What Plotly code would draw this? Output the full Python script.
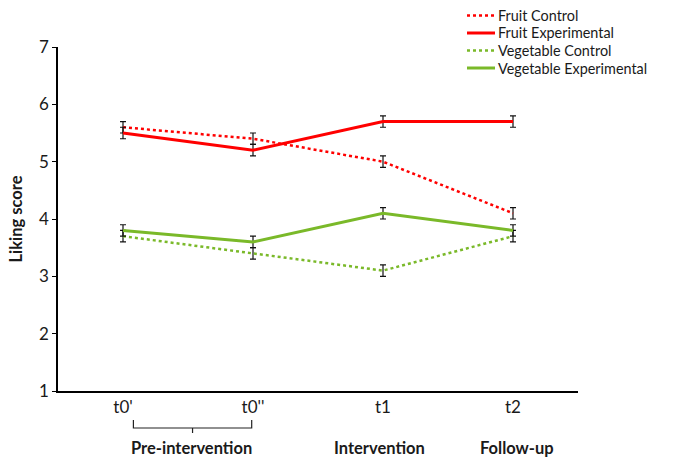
import plotly.graph_objects as go

categories = [0, 1, 2, 3]
tick_labels = ["t0'", "t0''", "t1", "t2"]
fruit_control = [5.6, 5.4, 5.0, 4.1]
fruit_experimental = [5.5, 5.2, 5.7, 5.7]
veg_control = [3.7, 3.4, 3.1, 3.7]
veg_experimental = [3.8, 3.6, 4.1, 3.8]
err = [0.1, 0.1, 0.1, 0.1]
series_names = ["Fruit Control", "Fruit Experimental", "Vegetable Control", "Vegetable Experimental"]
phase_labels = ["Pre-intervention", "Intervention", "Follow-up"]

RED = "#FF0000"
GREEN = "#7AB929"
FONT = "Lato"

W, H = 681, 458
ML, MR, MT, MB = 58, 103, 47, 67
PW, PH = W - ML - MR, H - MT - MB

def px_x(px):
    return (px - ML) / PW

def px_y(py):
    return (H - MB - py) / PH

fig = go.Figure()

styles = [(RED, "dot"), (RED, "solid"), (GREEN, "dot"), (GREEN, "solid")]
data = [fruit_control, fruit_experimental, veg_control, veg_experimental]

for name, y, (color, dash) in zip(series_names, data, styles):
    fig.add_trace(go.Scatter(
        x=categories, y=y, name=name, mode="lines", showlegend=False,
        line=dict(color=color, width=3 if dash == "solid" else 2.5, dash=dash),
        error_y=dict(type="data", array=err, visible=True, color="#111111",
                     thickness=1.2, width=3),
    ))

fig.update_layout(
    width=W, height=H,
    margin=dict(l=ML, r=MR, t=MT, b=MB, autoexpand=False),
    paper_bgcolor="white", plot_bgcolor="white",
    font=dict(family=FONT, size=17, color="#1a1a1a"),
    showlegend=False,
    xaxis=dict(range=[-0.5, 3.5], tickmode="array", tickvals=categories,
               ticktext=tick_labels, showgrid=False, zeroline=False,
               showline=True, linecolor="black", linewidth=1.5, ticks="",
               tickfont=dict(size=17)),
    yaxis=dict(range=[1, 7], dtick=1, showgrid=False, zeroline=False,
               showline=True, linecolor="black", linewidth=1.5,
               ticks="outside", ticklen=4, tickcolor="black",
               tickfont=dict(size=17),
               title=dict(text="<b>Liking score</b>", font=dict(size=16.5), standoff=12)),
)

# manual legend
for i, (name, (color, dash)) in enumerate(zip(series_names, styles)):
    yy = px_y(15.5 + i * 17.5)
    fig.add_shape(type="line", xref="paper", yref="paper",
                  x0=px_x(467), x1=px_x(495), y0=yy, y1=yy,
                  line=dict(color=color, width=3 if dash == "solid" else 2.5, dash=dash))
    fig.add_annotation(x=px_x(497), y=yy, xref="paper", yref="paper", text=name,
                       showarrow=False, xanchor="left", yanchor="middle",
                       font=dict(size=14.4), borderpad=0)

# bracket under pre-intervention
y_top, y_bot, y_tick = px_y(420), px_y(428), px_y(433)
fig.add_shape(type="path", xref="x", yref="paper",
              path=f"M 0.08,{y_top} L 0.08,{y_bot} L 0.99,{y_bot} L 0.99,{y_top}",
              line=dict(color="#222222", width=1.2))
fig.add_shape(type="line", xref="x", yref="paper", x0=0.535, x1=0.535,
              y0=y_bot, y1=y_tick, line=dict(color="#222222", width=1.2))

for xc, txt in zip([0.53, 1.97, 3.03], phase_labels):
    fig.add_annotation(x=xc, y=px_y(448), xref="x", yref="paper", text=f"<b>{txt}</b>",
                       showarrow=False, font=dict(size=16.5), yanchor="middle")

fig.write_html("out.html")
